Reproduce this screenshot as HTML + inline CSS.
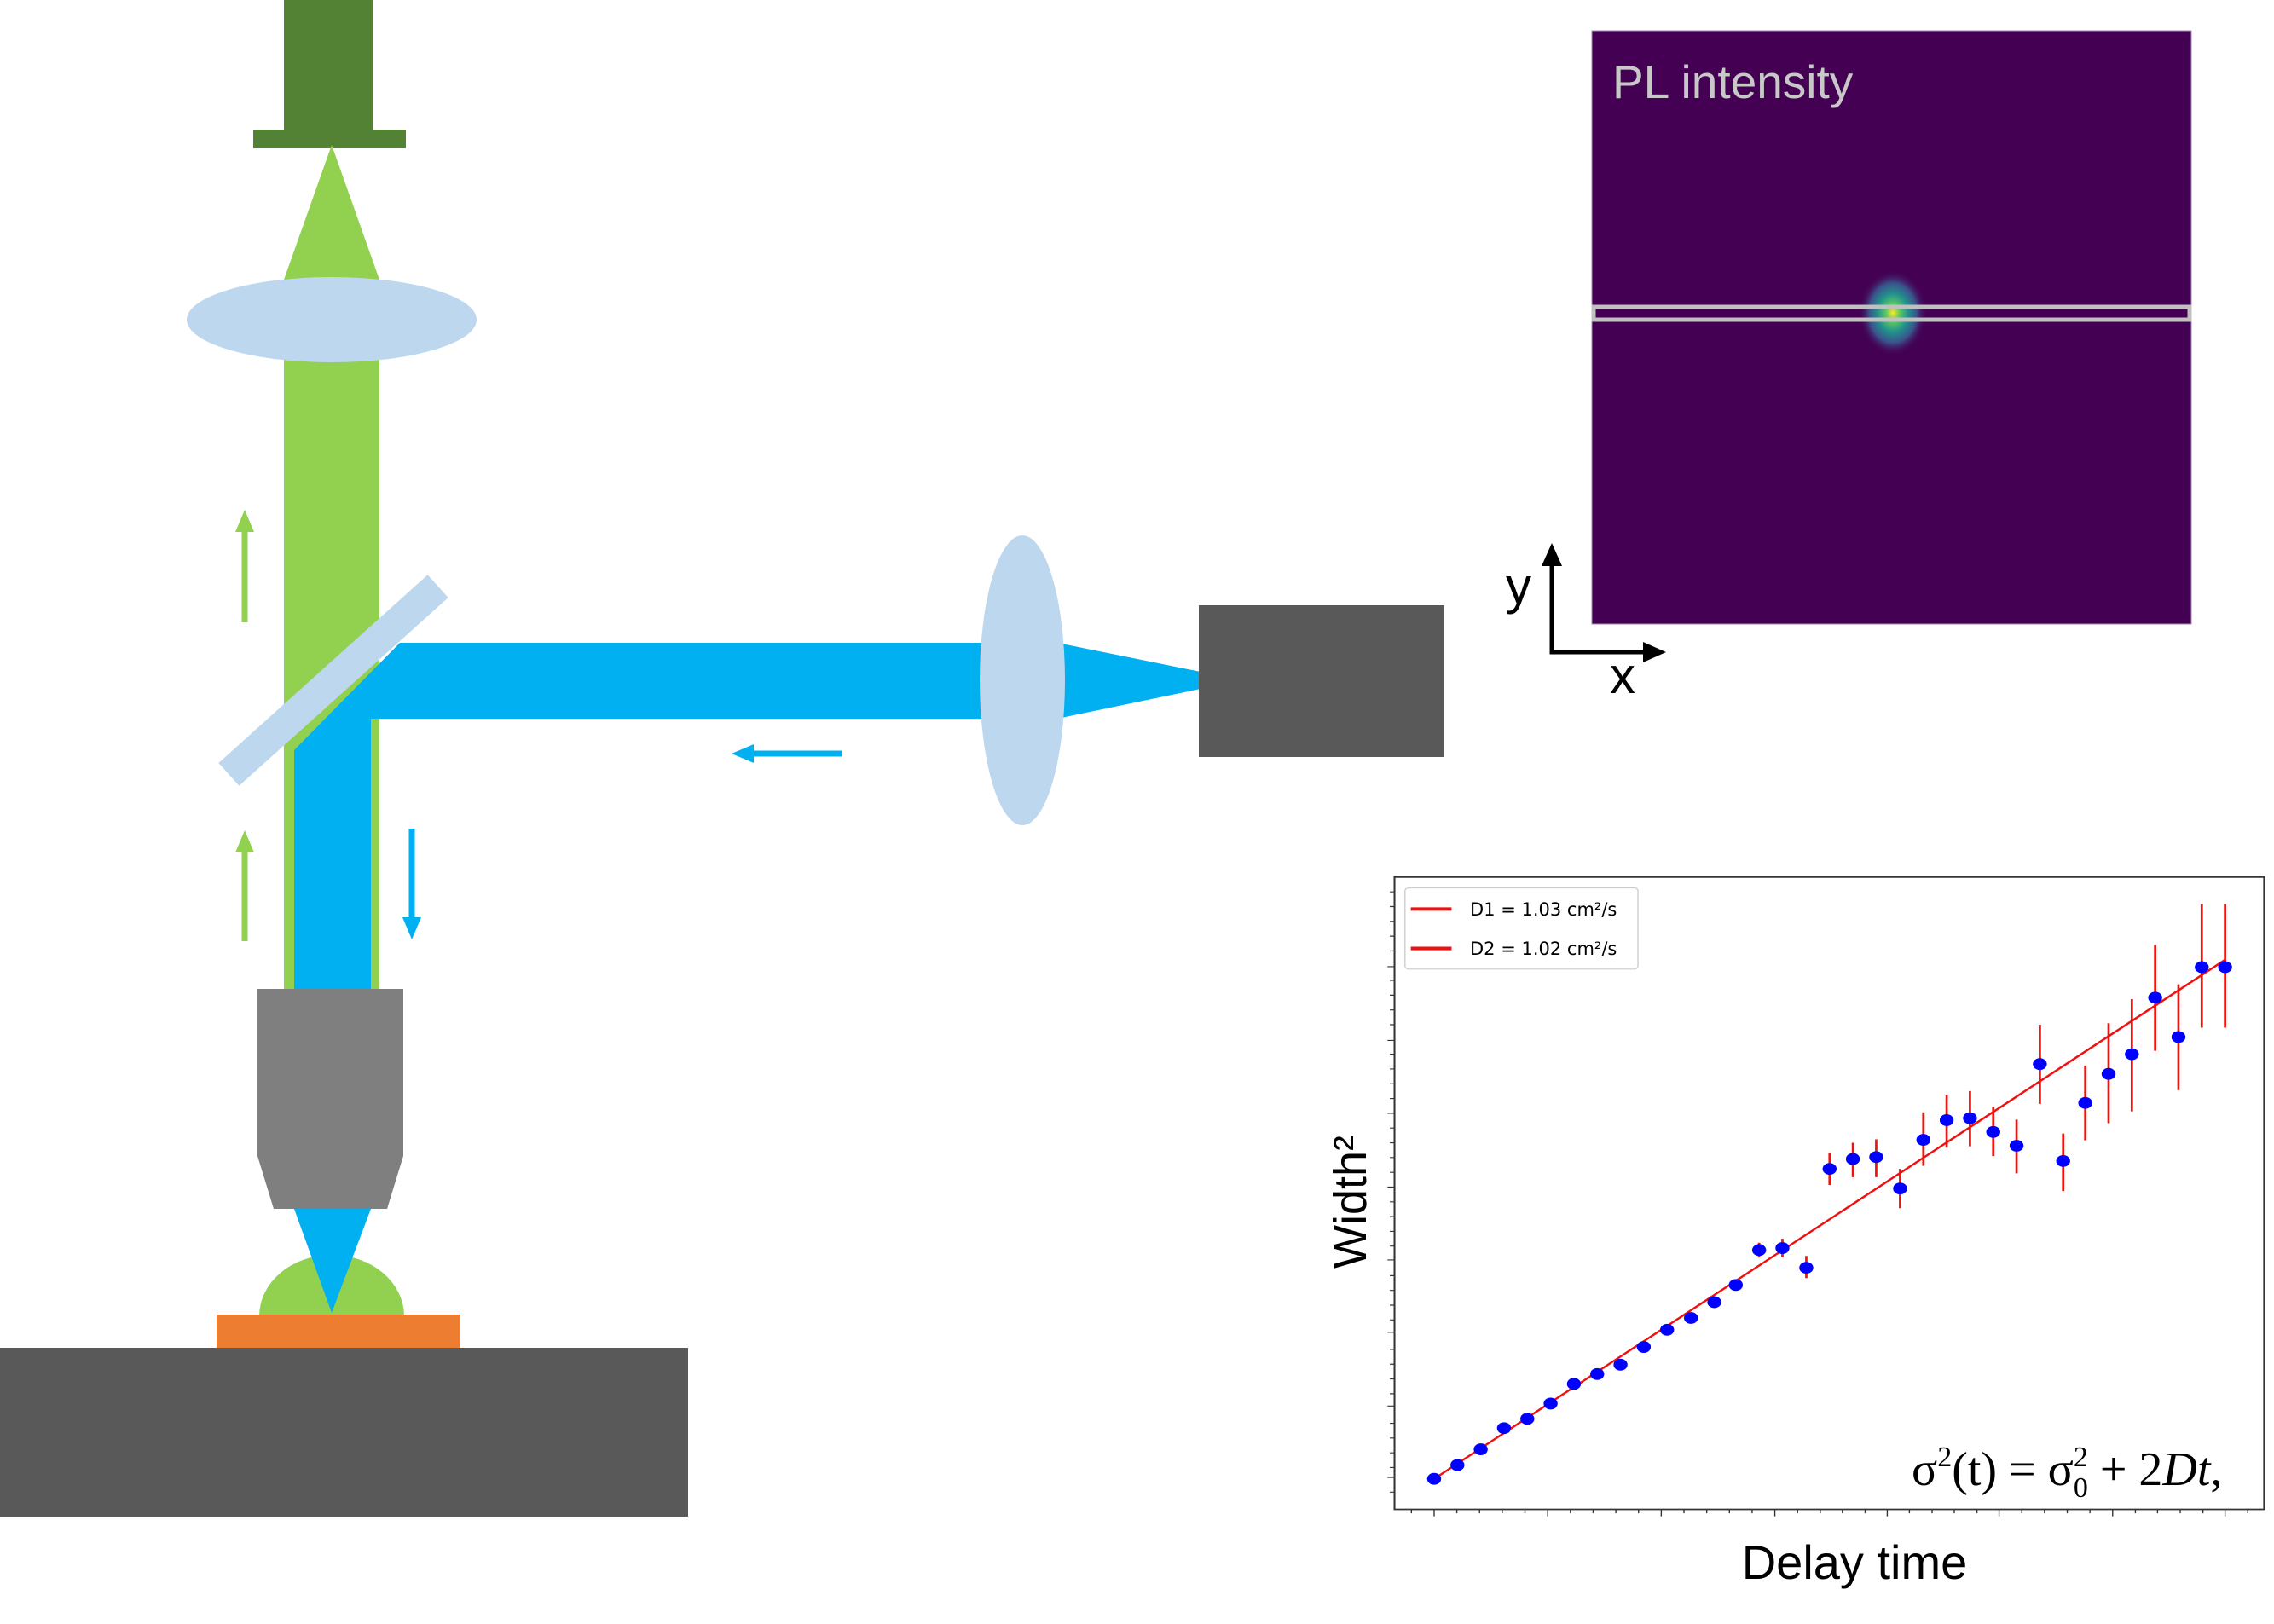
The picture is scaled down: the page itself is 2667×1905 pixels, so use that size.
<!DOCTYPE html>
<html><head><meta charset="utf-8"><style>
html,body{margin:0;padding:0;background:#fff;}
svg{display:block;}
</style></head><body>
<svg width="2667" height="1905" viewBox="0 0 2667 1905" xmlns="http://www.w3.org/2000/svg">
<defs>
<radialGradient id="spot" cx="50%" cy="50%" r="50%">
<stop offset="0" stop-color="#fde725"/>
<stop offset="0.2" stop-color="#5ec962"/>
<stop offset="0.45" stop-color="#21918c"/>
<stop offset="0.7" stop-color="#3b528b"/>
<stop offset="1" stop-color="#440154" stop-opacity="0"/>
</radialGradient>
</defs>
<!-- camera -->
<rect x="333" y="0" width="104" height="154" fill="#548235"/>
<rect x="297" y="152" width="179" height="22" fill="#548235"/>
<!-- green beam -->
<polygon points="389,170 333,328 445,328" fill="#92d050"/>
<rect x="333" y="360" width="112" height="800" fill="#92d050"/>
<ellipse cx="389" cy="375" rx="170" ry="50" fill="#bdd7ee"/>
<!-- green arrows -->
<line x1="287" y1="730" x2="287" y2="618" stroke="#92d050" stroke-width="7"/>
<polygon points="287,598 276,624 298,624" fill="#92d050"/>
<line x1="287" y1="1104" x2="287" y2="994" stroke="#92d050" stroke-width="7"/>
<polygon points="287,974 276,1000 298,1000" fill="#92d050"/>
<!-- blue beam -->
<polygon points="469,754 1200,754 1200,843 435,843 435,1160 345,1160 345,880" fill="#00b0f0"/>
<polygon points="1240,754 1408,788 1408,808 1240,843" fill="#00b0f0"/>
<ellipse cx="1199" cy="798" rx="50" ry="170" fill="#bdd7ee"/>
<rect x="1406" y="710" width="288" height="178" fill="#595959"/>
<!-- mirror -->
<rect x="226" y="780" width="330" height="36" fill="#bdd7ee" transform="rotate(-42 391 798)"/>
<!-- blue arrows -->
<line x1="988" y1="884" x2="878" y2="884" stroke="#00b0f0" stroke-width="7"/>
<polygon points="858,884 884,873 884,895" fill="#00b0f0"/>
<line x1="483" y1="972" x2="483" y2="1082" stroke="#00b0f0" stroke-width="7"/>
<polygon points="483,1102 472,1076 494,1076" fill="#00b0f0"/>
<!-- objective -->
<polygon points="302,1160 473,1160 473,1356 454,1418 321,1418 302,1356" fill="#7f7f7f"/>
<!-- sample -->
<path d="M304,1544 A85,72 0 0 1 474,1544 Z" fill="#92d050"/>
<polygon points="345,1418 435,1418 389,1540" fill="#00b0f0"/>
<rect x="254" y="1542" width="285" height="39" fill="#ed7d31"/>
<rect x="0" y="1581" width="807" height="198" fill="#595959"/>

<!-- PL image -->
<rect x="1867" y="36" width="703" height="696" fill="#440154" stroke="#a090b0" stroke-width="1"/>
<ellipse cx="2220" cy="367" rx="40" ry="50" fill="url(#spot)"/>
<rect x="1869" y="360" width="699" height="15" fill="none" stroke="#c0c0c0" stroke-width="5"/>
<text x="1891" y="115" font-family="Liberation Sans, sans-serif" font-size="55" fill="#c8c8c8">PL intensity</text>
<!-- axes -->
<polyline points="1820,660 1820,765 1935,765" fill="none" stroke="#000" stroke-width="5"/>
<polygon points="1820,637 1808,664 1832,664" fill="#000"/>
<polygon points="1954,765 1927,753 1927,777" fill="#000"/>
<text x="1766" y="708" font-family="Liberation Sans, sans-serif" font-size="60" fill="#000">y</text>
<text x="1888" y="813" font-family="Liberation Sans, sans-serif" font-size="60" fill="#000">x</text>

<!-- plot -->
<svg x="1600" y="1000" width="1067" height="905" viewBox="0 0 1562 1568" preserveAspectRatio="none">
<rect x="52" y="50" width="1493" height="1285" fill="#fff" stroke="#333" stroke-width="3"/>
<g stroke="#333" stroke-width="2">
<path d="M52,80h-8M52,110h-8M52,140h-8M52,170h-8M52,200h-8M52,260h-8M52,290h-8M52,320h-8M52,350h-8M52,410h-8M52,440h-8M52,470h-8M52,500h-8M52,560h-8M52,590h-8M52,620h-8M52,650h-8M52,710h-8M52,740h-8M52,770h-8M52,800h-8M52,860h-8M52,890h-8M52,920h-8M52,950h-8M52,1010h-8M52,1040h-8M52,1070h-8M52,1100h-8M52,1160h-8M52,1190h-8M52,1220h-8M52,1250h-8M52,1300h-8"/>
<path d="M52,232h-12M52,382h-12M52,530h-12M52,680h-12M52,828h-12M52,975h-12M52,1125h-12M52,1270h-12"/>
<path d="M120,1335v14M315,1335v14M510,1335v14M705,1335v14M898,1335v14M1090,1335v14M1285,1335v14M1478,1335v14"/>
<path d="M81,1335v8M159,1335v8M198,1335v8M237,1335v8M276,1335v8M354,1335v8M393,1335v8M432,1335v8M471,1335v8M549,1335v8M588,1335v8M627,1335v8M666,1335v8M744,1335v8M783,1335v8M821,1335v8M860,1335v8M936,1335v8M975,1335v8M1013,1335v8M1052,1335v8M1129,1335v8M1168,1335v8M1207,1335v8M1246,1335v8M1324,1335v8M1362,1335v8M1401,1335v8M1440,1335v8M1517,1335v8"/>
</g>
<g stroke="#e8160f" stroke-width="4">
<path d="M678,793V823M718,785V823M759,820V865M799,610V676M839,590V660M879,583V660M920,643V723M960,528V637M1000,492V600M1040,485V597M1080,517V617M1120,543V652M1160,350V511M1200,571V688M1238,433V585M1278,347V550M1318,298V526M1358,188V403M1398,268V483M1438,105V356M1478,105V356"/>
</g>
<line x1="120" y1="1273" x2="1478" y2="218" stroke="#f01010" stroke-width="4"/>
<g fill="#0000ff">
<ellipse cx="120" cy="1273" rx="12" ry="12"/><ellipse cx="160" cy="1245" rx="12" ry="12"/><ellipse cx="200" cy="1213" rx="12" ry="12"/><ellipse cx="240" cy="1170" rx="12" ry="12"/><ellipse cx="280" cy="1151" rx="12" ry="12"/><ellipse cx="320" cy="1120" rx="12" ry="12"/><ellipse cx="360" cy="1080" rx="12" ry="12"/><ellipse cx="400" cy="1060" rx="12" ry="12"/><ellipse cx="440" cy="1041" rx="12" ry="12"/><ellipse cx="480" cy="1005" rx="12" ry="12"/><ellipse cx="520" cy="970" rx="12" ry="12"/><ellipse cx="561" cy="946" rx="12" ry="12"/><ellipse cx="601" cy="914" rx="12" ry="12"/><ellipse cx="638" cy="879" rx="12" ry="12"/><ellipse cx="678" cy="808" rx="12" ry="12"/><ellipse cx="718" cy="804" rx="12" ry="12"/><ellipse cx="759" cy="844" rx="12" ry="12"/><ellipse cx="799" cy="643" rx="12" ry="12"/><ellipse cx="839" cy="623" rx="12" ry="12"/><ellipse cx="879" cy="619" rx="12" ry="12"/><ellipse cx="920" cy="683" rx="12" ry="12"/><ellipse cx="960" cy="584" rx="12" ry="12"/><ellipse cx="1000" cy="544" rx="12" ry="12"/><ellipse cx="1040" cy="540" rx="12" ry="12"/><ellipse cx="1080" cy="568" rx="12" ry="12"/><ellipse cx="1120" cy="596" rx="12" ry="12"/><ellipse cx="1160" cy="430" rx="12" ry="12"/><ellipse cx="1200" cy="627" rx="12" ry="12"/><ellipse cx="1238" cy="509" rx="12" ry="12"/><ellipse cx="1278" cy="450" rx="12" ry="12"/><ellipse cx="1318" cy="410" rx="12" ry="12"/><ellipse cx="1358" cy="295" rx="12" ry="12"/><ellipse cx="1398" cy="375" rx="12" ry="12"/><ellipse cx="1438" cy="233" rx="12" ry="12"/><ellipse cx="1478" cy="233" rx="12" ry="12"/>
</g>
<rect x="70" y="72" width="400" height="165" rx="6" fill="#fff" stroke="#ccc" stroke-width="2"/>
<line x1="80" y1="115" x2="150" y2="115" stroke="#f01010" stroke-width="7"/>
<line x1="80" y1="195" x2="150" y2="195" stroke="#f01010" stroke-width="7"/>
</svg>
<text x="1724" y="1074" font-family="DejaVu Sans, sans-serif" font-size="21" fill="#000">D1 = 1.03 cm²/s</text>
<text x="1724" y="1120" font-family="DejaVu Sans, sans-serif" font-size="21" fill="#000">D2 = 1.02 cm²/s</text>
<text x="2242" y="1742" font-family="Liberation Serif, serif" font-size="56" fill="#000">σ<tspan font-size="34" dy="-22">2</tspan><tspan dy="22">(t) = σ</tspan><tspan font-size="34" dy="-22">2</tspan><tspan font-size="34" dx="-17" dy="36">0</tspan><tspan dy="-14"> + 2</tspan><tspan font-style="italic">Dt</tspan>,</text>
<text x="2175" y="1852" text-anchor="middle" font-family="Liberation Sans, sans-serif" font-size="56" fill="#000">Delay time</text>
<text transform="translate(1602,1410) rotate(-90)" text-anchor="middle" font-family="Liberation Sans, sans-serif" font-size="54" fill="#000">Width²</text>
</svg>
</body></html>
